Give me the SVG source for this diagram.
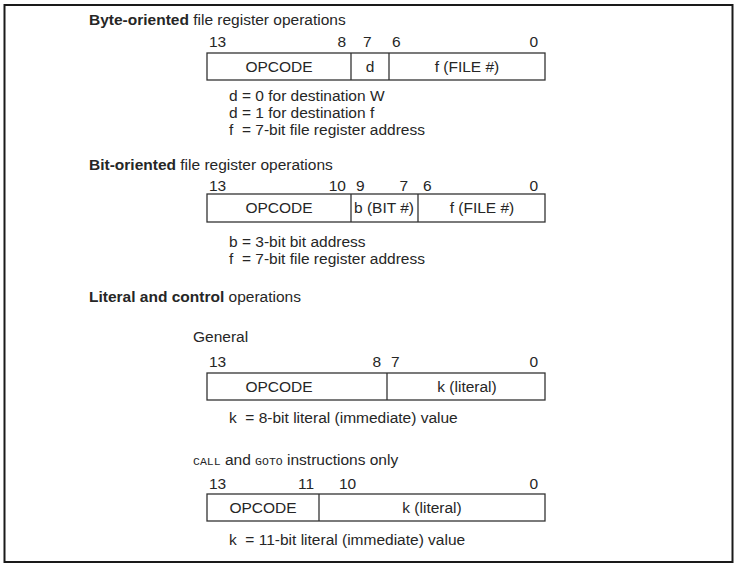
<svg xmlns="http://www.w3.org/2000/svg" width="738" height="569" viewBox="0 0 738 569">
<style>
text{font-family:"Liberation Sans",Arial,sans-serif;font-size:15.5px;fill:#262626;white-space:pre}
.b{font-weight:bold}
.m{font-family:"Liberation Mono","Courier New",monospace;font-size:11.5px}
.c{text-anchor:middle}
.e{text-anchor:end}
.box{fill:#fff;stroke:#333;stroke-width:1.3}
.div{stroke:#333;stroke-width:1.3}
</style>
<rect x="0" y="0" width="738" height="569" fill="#fff"/>
<rect id="frame" x="4.5" y="5" width="728" height="557" fill="none" stroke="#1a1a1a" stroke-width="2"/>

<g id="byte-oriented">
<text x="89" y="25"><tspan class="b">Byte-oriented</tspan> file register operations</text>
<text x="209" y="47">13</text>
<text x="346" y="47" class="e">8</text>
<text x="363" y="47">7</text>
<text x="392" y="47">6</text>
<text x="538" y="47" class="e">0</text>
<rect class="box" x="207" y="53" width="338" height="27"/>
<line class="div" x1="351" y1="53" x2="351" y2="80"/>
<line class="div" x1="389" y1="53" x2="389" y2="80"/>
<text x="279" y="72" class="c">OPCODE</text>
<text x="370" y="72" class="c">d</text>
<text x="467" y="72" class="c">f (FILE #)</text>
<text x="229" y="101" xml:space="preserve">d = 0 for destination W</text>
<text x="229" y="118" xml:space="preserve">d = 1 for destination f</text>
<text x="229" y="135" xml:space="preserve">f  = 7-bit file register address</text>
</g>

<g id="bit-oriented">
<text x="89" y="170"><tspan class="b">Bit-oriented</tspan> file register operations</text>
<text x="209" y="191">13</text>
<text x="346" y="191" class="e">10</text>
<text x="356" y="191">9</text>
<text x="408" y="191" class="e">7</text>
<text x="423" y="191">6</text>
<text x="538" y="191" class="e">0</text>
<rect class="box" x="207" y="194" width="338" height="28"/>
<line class="div" x1="351" y1="194" x2="351" y2="222"/>
<line class="div" x1="418" y1="194" x2="418" y2="222"/>
<text x="279" y="213" class="c">OPCODE</text>
<text x="384" y="213" class="c">b (BIT #)</text>
<text x="482" y="213" class="c">f (FILE #)</text>
<text x="229" y="247" xml:space="preserve">b = 3-bit bit address</text>
<text x="229" y="264" xml:space="preserve">f  = 7-bit file register address</text>
</g>

<g id="literal-control">
<text x="89" y="302"><tspan class="b">Literal and control</tspan> operations</text>
</g>

<g id="general">
<text x="193" y="342">General</text>
<text x="209" y="367">13</text>
<text x="381" y="367" class="e">8</text>
<text x="391" y="367">7</text>
<text x="538" y="367" class="e">0</text>
<rect class="box" x="207" y="373" width="338" height="27"/>
<line class="div" x1="387" y1="373" x2="387" y2="400"/>
<text x="279" y="392" class="c">OPCODE</text>
<text x="467" y="392" class="c">k (literal)</text>
<text x="229" y="423" xml:space="preserve">k  = 8-bit literal (immediate) value</text>
</g>

<g id="call-goto">
<text x="193" y="465"><tspan class="m">CALL</tspan> and <tspan class="m">GOTO</tspan> instructions only</text>
<text x="209" y="489">13</text>
<text x="314" y="489" class="e">11</text>
<text x="339" y="489">10</text>
<text x="538" y="489" class="e">0</text>
<rect class="box" x="207" y="494" width="338" height="27"/>
<line class="div" x1="319" y1="494" x2="319" y2="521"/>
<text x="263" y="513" class="c">OPCODE</text>
<text x="432" y="513" class="c">k (literal)</text>
<text x="229" y="545" xml:space="preserve">k  = 11-bit literal (immediate) value</text>
</g>
</svg>
